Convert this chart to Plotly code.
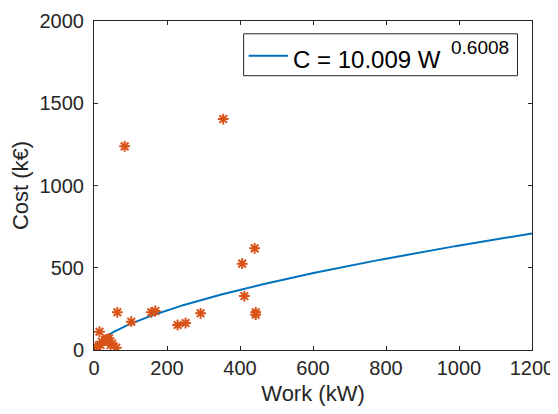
import numpy as np
import plotly.graph_objects as go

# Observed data (Work kW, Cost k€)
work_kw = [2, 5, 15, 18, 22, 31, 36, 41, 45, 50, 61, 64, 84, 102, 157, 168,
           229, 251, 292, 354, 406, 412, 440, 443, 443]
cost_keur = [5, 20, 111, 30, 50, 60, 65, 71, 30, 40, 14, 229, 1238, 172, 229, 237,
             152, 164, 223, 1404, 525, 328, 618, 229, 215]

# Fitted power law shown in legend
fit_a = 10.009
fit_b = 0.6008
fit_label_main = "C = 10.009 W"
fit_label_exp = "0.6008"
x_ticks = [0, 200, 400, 600, 800, 1000, 1200]
y_ticks = [0, 500, 1000, 1500, 2000]

fit_w = np.linspace(0, 1200, 400)
fit_c = fit_a * fit_w ** fit_b

FONT = "Liberation Sans, Arial, Helvetica, sans-serif"
AX = "#262626"
BLUE = "#0072BD"
ORANGE = "#D95319"

fig = go.Figure()
fig.add_trace(go.Scatter(
    x=fit_w, y=fit_c, mode="lines",
    line=dict(color=BLUE, width=2),
    name=fit_label_main + " " + fit_label_exp, showlegend=False,
))
fig.add_trace(go.Scatter(
    x=work_kw, y=cost_keur, mode="markers",
    marker=dict(symbol="asterisk-open", size=9, color=ORANGE,
                line=dict(color=ORANGE, width=2)),
    showlegend=False,
))

axis_common = dict(
    showgrid=False, zeroline=False, showline=True, linecolor=AX, linewidth=1,
    mirror="allticks", ticks="inside", ticklen=4, tickcolor=AX,
    tickfont=dict(family=FONT, size=20, color=AX), automargin=False,
)
fig.update_xaxes(range=[0, 1200], tickvals=x_ticks,
                 title=dict(text="Work (kW)", font=dict(family=FONT, size=22, color=AX), standoff=15),
                 **axis_common)
fig.update_yaxes(range=[0, 2000], tickvals=y_ticks, ticklabelstandoff=5,
                 title=dict(text="Cost (k€)", font=dict(family=FONT, size=22, color=AX), standoff=13),
                 **axis_common)

# Legend drawn as a box, a line sample and texts
fig.add_shape(type="rect", xref="paper", yref="paper",
              x0=0.3416, x1=0.9669, y0=0.8337, y1=0.9611,
              line=dict(color=AX, width=1), fillcolor="white", layer="above")
fig.add_shape(type="line", xref="paper", yref="paper",
              x0=0.3530, x1=0.4429, y0=0.8943, y1=0.8943,
              line=dict(color=BLUE, width=2), layer="above")
fig.add_annotation(xref="paper", yref="paper", x=0.4495, y=0.8841,
                   xanchor="left", yanchor="middle", showarrow=False,
                   text=fit_label_main, font=dict(family=FONT, size=24, color="black"))
fig.add_annotation(xref="paper", yref="paper", x=0.811, y=0.919,
                   xanchor="left", yanchor="middle", showarrow=False,
                   text=fit_label_exp, font=dict(family=FONT, size=19, color="black"))

fig.update_layout(
    width=550, height=398,
    margin=dict(l=85.5, r=26, t=12.5, b=56),
    plot_bgcolor="white", paper_bgcolor="white",
    font=dict(family=FONT, color=AX),
)

fig.write_html("out.html")
